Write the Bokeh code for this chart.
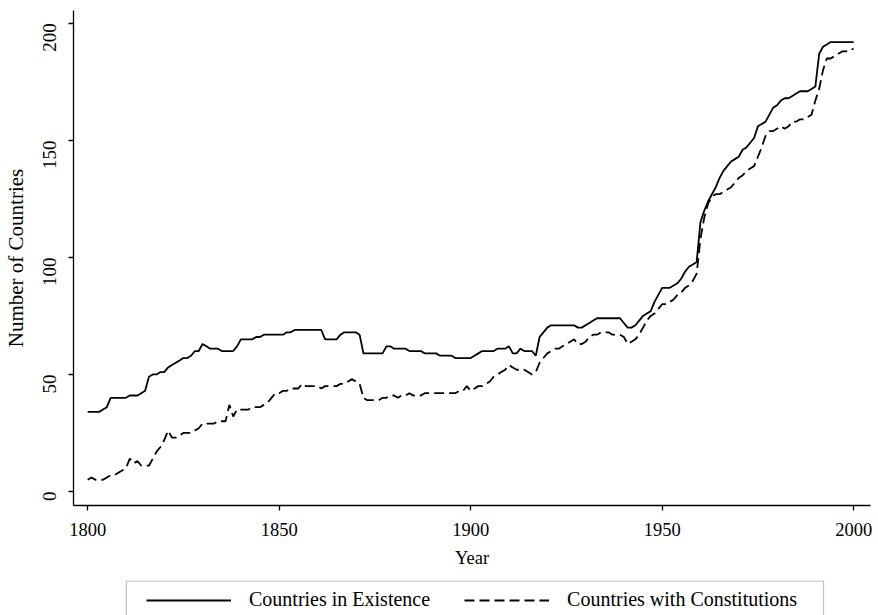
import math
from bokeh.plotting import figure
from bokeh.layouts import column
from bokeh.models import Range1d, FixedTicker, Legend, LegendItem, BoxAnnotation
from bokeh.embed import file_html
from bokeh.resources import INLINE

years = list(range(1800, 2001))

existence = [
    34, 34, 34, 34, 35, 36, 40, 40, 40, 40,   # 1800-1809
    40, 41, 41, 41, 42, 43, 49, 50, 50, 51,   # 1810-1819
    51, 53, 54, 55, 56, 57, 57, 58, 60, 60,   # 1820-1829
    63, 62, 61, 61, 61, 60, 60, 60, 60, 62,   # 1830-1839
    65, 65, 65, 65, 66, 66, 67, 67, 67, 67,   # 1840-1849
    67, 67, 68, 68, 69, 69, 69, 69, 69, 69,   # 1850-1859
    69, 69, 65, 65, 65, 65, 67, 68, 68, 68,   # 1860-1869
    68, 67, 59, 59, 59, 59, 59, 59, 62, 62,   # 1870-1879
    61, 61, 61, 61, 60, 60, 60, 60, 59, 59,   # 1880-1889
    59, 59, 58, 58, 58, 58, 57, 57, 57, 57,   # 1890-1899
    57, 58, 59, 60, 60, 60, 60, 61, 61, 61,   # 1900-1909
    62, 59, 59, 61, 60, 60, 60, 58, 66, 68,   # 1910-1919
    70, 71, 71, 71, 71, 71, 71, 71, 70, 70,   # 1920-1929
    71, 72, 73, 74, 74, 74, 74, 74, 74, 74,   # 1930-1939
    72, 70, 70, 71, 73, 75, 76, 77, 81, 84,   # 1940-1949
    87, 87, 87, 88, 89, 91, 94, 96, 97, 98,   # 1950-1959
    115, 120, 124, 127, 130, 134, 137, 139, 141, 142,   # 1960-1969
    143, 146, 147, 149, 151, 156, 157, 158, 161, 164,   # 1970-1979
    165, 167, 168, 168, 169, 170, 171, 171, 171, 172,   # 1980-1989
    173, 187, 190, 191, 192, 192, 192, 192, 192, 192,   # 1990-1999
    192,                                                # 2000
]

constitutions = [
    5, 6, 5, 5, 5, 6, 7, 7, 8, 9,             # 1800-1809
    10, 14, 12, 13, 11, 11, 11, 14, 17, 19,   # 1810-1819
    22, 26, 23, 23, 24, 25, 25, 25, 26, 27,   # 1820-1829
    29, 29, 29, 29, 30, 30, 30, 37, 32, 35,   # 1830-1839
    35, 35, 35, 36, 36, 36, 37, 38, 40, 42,   # 1840-1849
    42, 43, 43, 44, 44, 44, 46, 45, 45, 45,   # 1850-1859
    45, 44, 45, 45, 45, 45, 46, 46, 47, 48,   # 1860-1869
    47, 46, 40, 39, 39, 39, 39, 40, 40, 41,   # 1870-1879
    41, 40, 41, 41, 42, 41, 41, 41, 42, 42,   # 1880-1889
    42, 42, 42, 42, 42, 42, 42, 43, 43, 45,   # 1890-1899
    43, 44, 45, 45, 46, 47, 49, 50, 51, 52,   # 1900-1909
    54, 53, 52, 52, 52, 51, 50, 51, 55, 57,   # 1910-1919
    59, 60, 61, 61, 62, 63, 64, 65, 63, 63,   # 1920-1929
    64, 66, 67, 67, 68, 68, 68, 67, 67, 67,   # 1930-1939
    66, 63, 64, 65, 67, 70, 73, 75, 76, 78,   # 1940-1949
    80, 80, 81, 82, 84, 85, 87, 88, 90, 93,   # 1950-1959
    108, 117, 123, 126, 127, 127, 128, 129, 130, 132,   # 1960-1969
    134, 135, 137, 138, 139, 143, 147, 152, 154, 154,   # 1970-1979
    155, 156, 155, 156, 158, 158, 159, 159, 160, 161,   # 1980-1989
    167, 172, 180, 185, 185, 186, 187, 188, 188, 189,   # 1990-1999
    189,                                                # 2000
]

x_ticks = [1800, 1850, 1900, 1950, 2000]
y_ticks = [0, 50, 100, 150, 200]
series_labels = ["Countries in Existence", "Countries with Constitutions"]

FONT = "Liberation Serif"
SOLID = dict(line_color="black", line_width=1.8)
DASHED = dict(line_color="black", line_width=1.8, line_dash="10 5")

x_range = Range1d(1796.3, 2004.4)

p = figure(width=878, height=580, output_backend="svg", toolbar_location=None,
           x_range=x_range, y_range=Range1d(-6, 205.5),
           min_border_left=72, min_border_right=8, min_border_top=10,
           min_border_bottom=75)
p.outline_line_color = None
p.xgrid.grid_line_color = None
p.ygrid.grid_line_color = None
p.background_fill_color = "white"
p.border_fill_color = "white"

p.line(years, existence, **SOLID)
p.line(years, constitutions, **DASHED)

for ax in (p.xaxis[0], p.yaxis[0]):
    ax.axis_line_color = "black"
    ax.axis_line_width = 1.3
    ax.major_tick_line_color = "black"
    ax.major_tick_line_width = 1.3
    ax.major_tick_out = 5
    ax.major_tick_in = 0
    ax.minor_tick_line_color = None
    ax.major_label_text_font = FONT
    ax.major_label_text_color = "black"
    ax.axis_label_text_font = FONT
    ax.axis_label_text_font_style = "normal"
    ax.axis_label_text_color = "black"

p.xaxis.ticker = FixedTicker(ticks=x_ticks)
p.yaxis.ticker = FixedTicker(ticks=y_ticks)
p.xaxis.axis_label = "Year"
p.yaxis.axis_label = "Number of Countries"
p.xaxis.major_label_text_font_size = "18.5px"
p.yaxis.major_label_text_font_size = "19px"
p.xaxis.axis_label_text_font_size = "18.5px"
p.yaxis.axis_label_text_font_size = "21px"
p.xaxis.major_label_standoff = 12
p.xaxis.axis_label_standoff = 9
p.yaxis.major_label_standoff = 19
p.yaxis.axis_label_standoff = 6
p.yaxis.major_label_orientation = math.pi / 2

# legend strip below the chart (its copies of the lines fall outside its
# y range, so only their legend keys show)
leg = figure(width=878, height=35, output_backend="svg", toolbar_location=None,
             x_range=x_range, y_range=Range1d(-35, 0),
             x_axis_type=None, y_axis_type=None,
             min_border_left=72, min_border_right=8, min_border_top=0,
             min_border_bottom=0)
leg.outline_line_color = None
leg.xgrid.grid_line_color = None
leg.ygrid.grid_line_color = None
leg.background_fill_color = "white"
leg.border_fill_color = "white"

k1 = leg.line(years, existence, **SOLID)
k2 = leg.line(years, constitutions, **DASHED)

box = BoxAnnotation(left=1810.1, right=1992.13, top=-0.6, bottom=-60,
                    fill_alpha=0, line_color="#333333", line_width=1.2)
leg.add_layout(box)

legend = Legend(items=[LegendItem(label=series_labels[0], renderers=[k1]),
                       LegendItem(label=series_labels[1], renderers=[k2])],
                orientation="horizontal", location=(73, 4),
                glyph_width=85, label_standoff=18, spacing=34, padding=0,
                margin=0, border_line_alpha=0, background_fill_alpha=0,
                label_text_font=FONT, label_text_font_size="20px",
                label_text_color="black")
leg.add_layout(legend)

layout = column(p, leg, spacing=0)
open("out.html", "w").write(file_html(layout, INLINE))
